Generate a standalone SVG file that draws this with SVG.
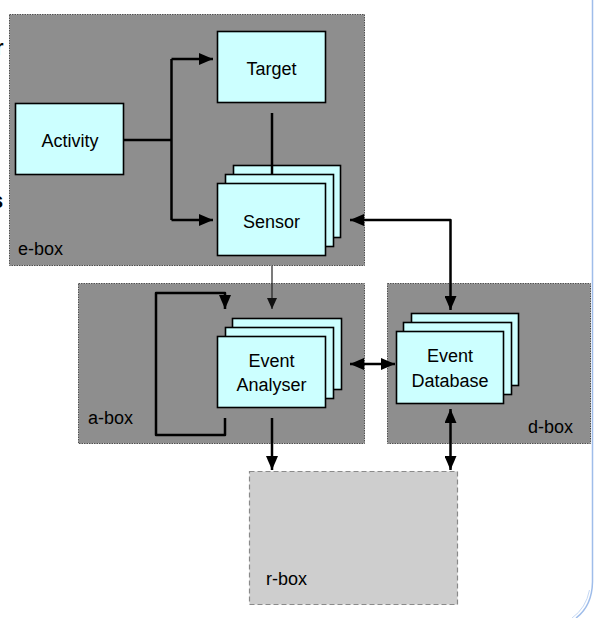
<svg xmlns="http://www.w3.org/2000/svg" width="594" height="618" viewBox="0 0 594 618">
  <style>
    .container { fill: #8e8e8e; stroke: #505050; stroke-width: 1; stroke-dasharray: 1.5 1; }
    .rbox { fill: #cecece; stroke: #8a8a8a; stroke-width: 1.2; stroke-dasharray: 5 3; }
    .node { fill: #ccffff; stroke: #000; stroke-width: 1.6; }
    .lbl { font-family: "Liberation Sans", Arial, sans-serif; font-size: 18px; fill: #000; }
    .mid { text-anchor: middle; }
    .conn { fill: none; stroke: #000; stroke-width: 2.5; }
    .thin { fill: none; stroke: #222; stroke-width: 1.2; }
    .frag { font-family: "Liberation Sans", Arial, sans-serif; font-size: 22px; font-weight: bold; fill: #000; }
  </style>
  <defs>
    <marker id="ah" markerUnits="userSpaceOnUse" markerWidth="14" markerHeight="12" refX="14" refY="6" orient="auto-start-reverse">
      <path d="M0,0 L14,6 L0,12 z" fill="#000"/>
    </marker>
    <marker id="ahs" markerUnits="userSpaceOnUse" markerWidth="11" markerHeight="10" refX="11" refY="5" orient="auto">
      <path d="M0,0 L11,5 L0,10 z" fill="#111"/>
    </marker>
  </defs>
  <rect width="594" height="618" fill="#fff"/>

  <!-- edge fragments -->
  <text class="frag" x="-5" y="55">r</text>
  <text class="frag" x="-9" y="208">s</text>

  <!-- blue frame edge -->
  <path d="M592.5,0 V582 Q592,606 576,618" fill="none" stroke="#9fbdea" stroke-width="1.5"/>
  <path d="M589.5,590 Q586,608 572,618" fill="none" stroke="#c5d8f4" stroke-width="1"/>

  <g id="e-box">
    <rect class="container" x="9.5" y="14.5" width="355" height="251"/>
    <text class="lbl" x="18" y="255">e-box</text>
  </g>
  <g id="a-box">
    <rect class="container" x="78.5" y="283.5" width="286" height="160"/>
    <text class="lbl" x="88" y="424">a-box</text>
  </g>
  <g id="d-box">
    <rect class="container" x="387.5" y="283.5" width="203" height="160"/>
    <text class="lbl" x="573" y="433" text-anchor="end">d-box</text>
  </g>
  <g id="r-box">
    <rect class="rbox" x="249.5" y="471.5" width="208" height="133"/>
    <text class="lbl" x="266" y="585">r-box</text>
  </g>

  <g id="activity">
    <rect class="node" x="15.5" y="103.5" width="108" height="71"/>
    <text class="lbl mid" x="70" y="147">Activity</text>
  </g>
  <g id="target">
    <rect class="node" x="217.5" y="31.5" width="108" height="71"/>
    <text class="lbl mid" x="271.5" y="75">Target</text>
  </g>
  <g id="sensor">
    <rect class="node" x="233.5" y="165.5" width="107" height="72"/>
    <rect class="node" x="225.5" y="174.5" width="108" height="72"/>
    <rect class="node" x="217.5" y="183.5" width="108" height="72"/>
    <text class="lbl mid" x="271.5" y="228">Sensor</text>
  </g>
  <g id="event-analyser">
    <rect class="node" x="232.5" y="318.5" width="109" height="71"/>
    <rect class="node" x="225.5" y="327.5" width="108" height="71"/>
    <rect class="node" x="217.5" y="336.5" width="108" height="71"/>
    <text class="lbl mid" x="271.5" y="367">Event</text>
    <text class="lbl mid" x="271.5" y="391">Analyser</text>
  </g>
  <g id="event-database">
    <rect class="node" x="411.5" y="313.5" width="107" height="72"/>
    <rect class="node" x="403.5" y="322.5" width="108" height="72"/>
    <rect class="node" x="396.5" y="331.5" width="107" height="72"/>
    <text class="lbl mid" x="450" y="362">Event</text>
    <text class="lbl mid" x="450" y="387">Database</text>
  </g>

  <g id="connectors">
    <path class="conn" d="M124,140 H171.5"/>
    <path class="conn" d="M171.5,59 V220" stroke-linejoin="round"/>
    <path class="conn" d="M171.5,59 H213" marker-end="url(#ah)"/>
    <path class="conn" d="M171.5,220 H213" marker-end="url(#ah)"/>
    <path class="conn" d="M272,113 V174" stroke-width="2"/>
    <path class="conn" d="M450.5,310 V220 H350" marker-start="url(#ah)" marker-end="url(#ah)" stroke-linejoin="round"/>
    <path class="thin" d="M272,266 V309" marker-end="url(#ahs)"/>
    <path class="conn" d="M225,418 V435 H156 V293 H225 V309" marker-end="url(#ah)" stroke-linejoin="round"/>
    <path class="conn" d="M350,364 H395" marker-start="url(#ah)" marker-end="url(#ah)"/>
    <path class="conn" d="M272,418 V470" marker-end="url(#ah)"/>
    <path class="conn" d="M450.5,409 V470" marker-start="url(#ah)" marker-end="url(#ah)"/>
  </g>
</svg>
